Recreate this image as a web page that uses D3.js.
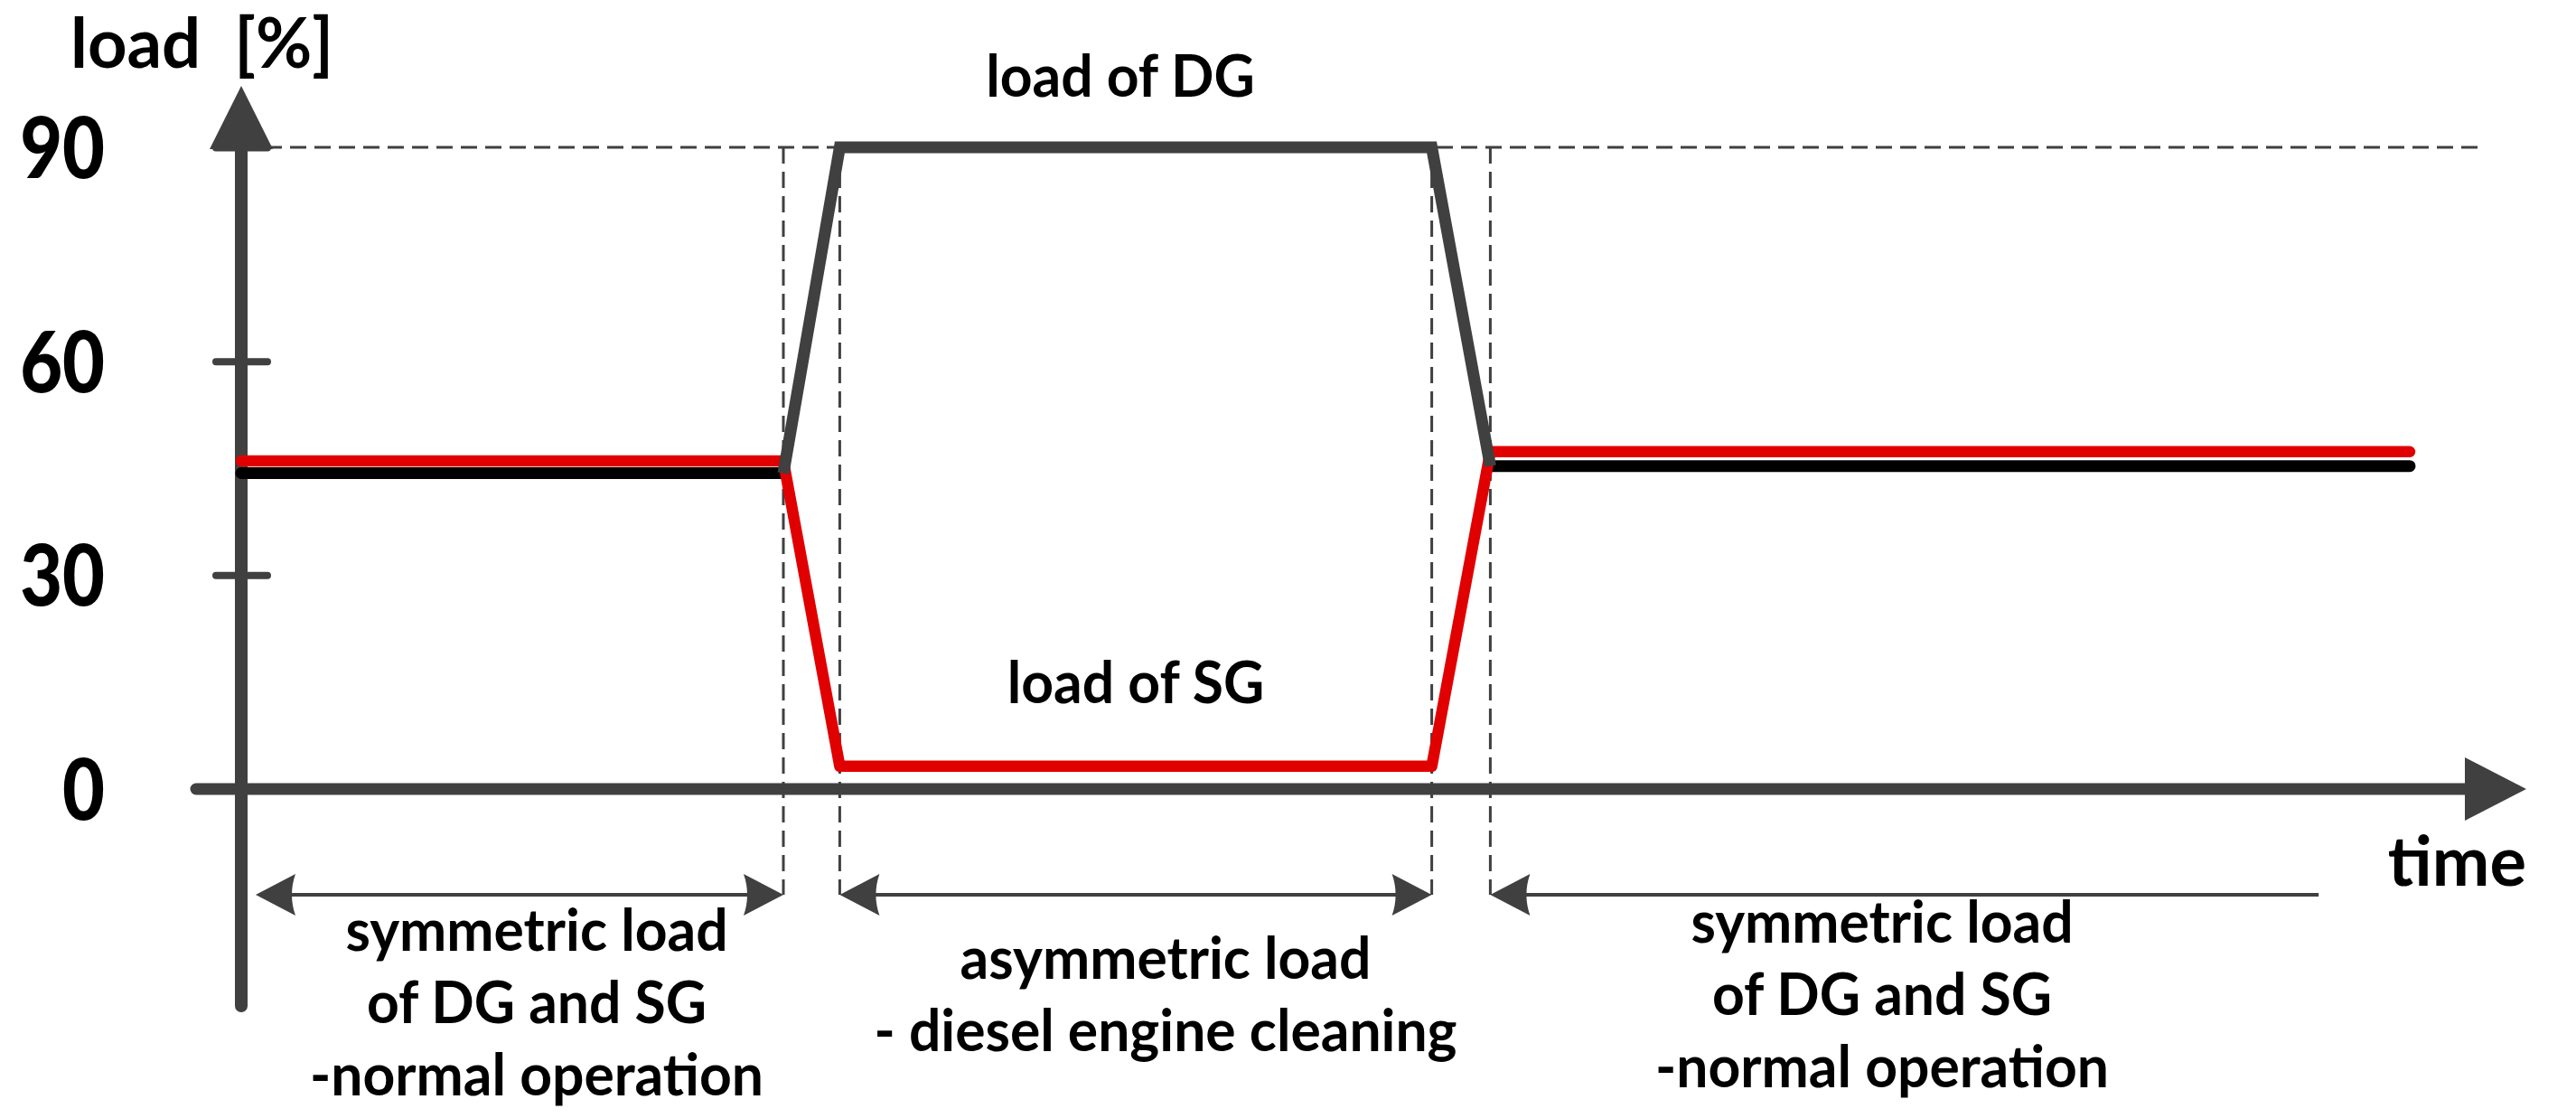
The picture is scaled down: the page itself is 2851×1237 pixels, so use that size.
<!DOCTYPE html>
<html>
<head>
<meta charset="utf-8">
<script src="https://cdn.jsdelivr.net/npm/d3@7"></script>
<style>
    body { margin: 0; background: #fff; }
    text { font-family: Lato, "Open Sans", sans-serif; font-weight: 700; fill: #000; }
</style>
</head>
<body>
<svg id="chart"></svg>
<script>
// time points of the load profile (arbitrary time units)
var times = [0, 25, 27.6, 54.9, 57.6, 100];
// load of diesel generator [%]
var dgLoad = [44.3, 44.3, 90, 90, 45.3, 45.3];
// load of shaft generator [%]
var sgLoad = [46, 46, 3.2, 3.2, 47.3, 47.3];
var yTicks = [0, 30, 60, 90];
// phase borders and spans under the time axis
var phaseMarks = [25, 27.6, 54.9, 57.6];
var phaseFrom = [0, 27.6, 57.6];
var phaseTo = [25, 54.9, 95.8];
var phaseHeads = ["both", "both", "start"];
var phaseText = [
    ["symmetric load", "of DG and SG", "-normal operation"],
    ["asymmetric load", "- diesel engine cleaning"],
    ["symmetric load", "of DG and SG", "-normal operation"]
];

var width = 2851, height = 1237;
var grey = "#404040", red = "#e10000";

var svg = d3.select("#chart")
            .attr("width", width)
            .attr("height", height);

var x = d3.scaleLinear().domain([0, 100]).range([267, 2667]);
var y = d3.scaleLinear().domain([0, 90]).range([873, 163]);

var axisX0 = 217, axisXEnd = 2796, axisYEnd = 1113, axisYTop = 95;
var spanY = 990;

// squeeze text horizontally around its anchor
function squeeze(sel, k){
    sel.each(function(){
        var t = d3.select(this);
        var tx = +t.attr("x") || 0, ty = +t.attr("y") || 0;
        t.attr("x", 0).attr("y", 0)
         .attr("transform", "translate(" + tx + "," + ty + ") scale(" + k + ",1)");
    });
}

// dashed guide lines
svg.append("line")
    .attr("x1", x(0)).attr("x2", 2745)
    .attr("y1", y(90)).attr("y2", y(90))
    .attr("stroke", grey).attr("stroke-width", 3)
    .attr("stroke-dasharray", "18,9");

svg.selectAll(".mark")
    .data(phaseMarks)
    .enter().append("line")
        .classed("mark", true)
        .attr("x1", d => x(d)).attr("x2", d => x(d))
        .attr("y1", y(90)).attr("y2", spanY)
        .attr("stroke", grey).attr("stroke-width", 3)
        .attr("stroke-dasharray", "18,9");

// y axis with ticks
var yAxis = svg.append("g")
    .attr("transform", "translate(" + (x(0) + 29) + ",0)")
    .call(d3.axisLeft(y).tickValues(yTicks).tickSize(57).tickPadding(123));
yAxis.select(".domain").remove();
yAxis.selectAll(".tick line")
    .attr("stroke", grey).attr("stroke-width", 8).attr("stroke-linecap", "round");
yAxis.selectAll(".tick text")
    .attr("dy", "0.36em")
    .style("font-size", "93px")
    .style("font-weight", 900)
    .call(squeeze, 0.87);

svg.append("line")
    .attr("x1", x(0)).attr("x2", x(0))
    .attr("y1", axisYEnd).attr("y2", y(90) + 4)
    .attr("stroke", grey).attr("stroke-width", 14).attr("stroke-linecap", "round");
svg.append("path")
    .attr("d", "M" + x(0) + "," + axisYTop + "L" + (x(0) + 35) + "," + (y(90) + 2) +
               "L" + (x(0) - 35) + "," + (y(90) + 2) + "Z")
    .attr("fill", grey);

// x axis
svg.append("line")
    .attr("x1", axisX0).attr("x2", axisXEnd - 64)
    .attr("y1", y(0)).attr("y2", y(0))
    .attr("stroke", grey).attr("stroke-width", 13).attr("stroke-linecap", "round");
svg.append("path")
    .attr("d", "M" + axisXEnd + "," + y(0) + "L" + (axisXEnd - 68) + "," + (y(0) - 35) +
               "L" + (axisXEnd - 68) + "," + (y(0) + 35) + "Z")
    .attr("fill", grey);

svg.append("text")
    .attr("x", 78).attr("y", 75)
    .style("font-size", "76px")
    .style("white-space", "pre")
    .text("load  [%]");

svg.append("text")
    .attr("x", 2796).attr("y", 980)
    .attr("text-anchor", "end")
    .style("font-size", "76px")
    .text("time");

// load curves
var pts = (vals) => times.map((t, i) => [t, vals[i]]);
var line = d3.line().x(d => x(d[0])).y(d => y(d[1]));
var dg = pts(dgLoad), sg = pts(sgLoad);

svg.append("path")
    .attr("d", line(dg.slice(0, 2)) + line(dg.slice(4)))
    .attr("fill", "none").attr("stroke", "#000")
    .attr("stroke-width", 13).attr("stroke-linecap", "round");

svg.append("path")
    .attr("d", line(sg))
    .attr("fill", "none").attr("stroke", red)
    .attr("stroke-width", 12.5).attr("stroke-linecap", "round")
    .attr("stroke-linejoin", "round");

svg.append("path")
    .attr("d", line(dg.slice(1, 5)))
    .attr("fill", "none").attr("stroke", grey)
    .attr("stroke-width", 13).attr("stroke-linejoin", "miter");

svg.append("text")
    .attr("x", 1240).attr("y", 107)
    .attr("text-anchor", "middle")
    .style("font-size", "65px")
    .text("load of DG")
    .call(squeeze, 0.96);

svg.append("text")
    .attr("x", x((times[2] + times[3]) / 2)).attr("y", 778)
    .attr("text-anchor", "middle")
    .style("font-size", "65px")
    .text("load of SG")
    .call(squeeze, 0.96);

// phase spans with arrow heads
function head(px, dir){
    // concave arrow head, tip at px
    var b = px + dir * 44, n = px + dir * 36;
    return "M" + px + "," + spanY + "L" + b + "," + (spanY - 23) +
           "Q" + n + "," + spanY + " " + b + "," + (spanY + 23) + "Z";
}

phaseFrom.forEach(function(f, i){
    var x1 = x(f) + (i === 0 ? 16 : 0), x2 = x(phaseTo[i]);
    svg.append("line")
        .attr("x1", x1 + 30).attr("x2", phaseHeads[i] === "both" ? x2 - 30 : x2)
        .attr("y1", spanY).attr("y2", spanY)
        .attr("stroke", grey).attr("stroke-width", 4);
    svg.append("path").attr("d", head(x1, 1)).attr("fill", grey);
    if (phaseHeads[i] === "both")
        svg.append("path").attr("d", head(x2, -1)).attr("fill", grey);
});

var textCx = [594, 1290, 2083];
var textY0 = [1052, 1083, 1043];
var textDy = [80, 80, 80];
phaseText.forEach(function(lines, i){
    svg.selectAll(".ph" + i)
        .data(lines)
        .enter().append("text")
            .classed("ph" + i, true)
            .attr("x", textCx[i])
            .attr("y", (d, j) => textY0[i] + j * textDy[i])
            .attr("text-anchor", "middle")
            .style("font-size", "65px")
            .text(d => d)
            .call(squeeze, 0.96);
});
</script>
</body>
</html>
